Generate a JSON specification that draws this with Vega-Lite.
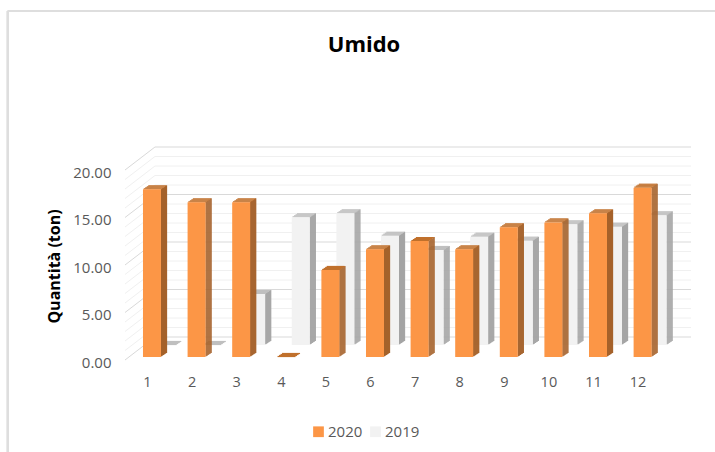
{"$schema":"https://vega.github.io/schema/vega-lite/v6.json","width":566,"height":228,"autosize":{"type":"none"},"padding":{"left":125,"top":132,"right":24,"bottom":92},"background":"#ffffff",
"title":{"text":"Umido","font":"Open Sans","fontSize":22,"fontWeight":"bold","color":"#000000","anchor":"middle","dx":-44,"offset":-47},
"config":{"view":{"stroke":null},"font":"Open Sans","axis":{"grid":false,"domain":false,"ticks":false}},
"datasets":{
"d2020":[{"mese":1,"anno":"2020","quantita":17.65},{"mese":2,"anno":"2020","quantita":16.28},{"mese":3,"anno":"2020","quantita":16.28},{"mese":4,"anno":"2020","quantita":0},{"mese":5,"anno":"2020","quantita":9.16},{"mese":6,"anno":"2020","quantita":11.33},{"mese":7,"anno":"2020","quantita":12.2},{"mese":8,"anno":"2020","quantita":11.33},{"mese":9,"anno":"2020","quantita":13.65},{"mese":10,"anno":"2020","quantita":14.17},{"mese":11,"anno":"2020","quantita":15.12},{"mese":12,"anno":"2020","quantita":17.82}],
"d2019":[{"mese":1,"anno":"2019","quantita":0},{"mese":2,"anno":"2019","quantita":0},{"mese":3,"anno":"2019","quantita":5.37},{"mese":4,"anno":"2019","quantita":13.44},{"mese":5,"anno":"2019","quantita":13.86},{"mese":6,"anno":"2019","quantita":11.5},{"mese":7,"anno":"2019","quantita":10},{"mese":8,"anno":"2019","quantita":11.4},{"mese":9,"anno":"2019","quantita":10.98},{"mese":10,"anno":"2019","quantita":12.7},{"mese":11,"anno":"2019","quantita":12.45},{"mese":12,"anno":"2019","quantita":13.65}],
"livelli":[{"livello":0},{"livello":1},{"livello":2},{"livello":3},{"livello":4},{"livello":5},{"livello":6},{"livello":7},{"livello":8},{"livello":9},{"livello":10},{"livello":11},{"livello":12},{"livello":13},{"livello":14},{"livello":15},{"livello":16},{"livello":17},{"livello":18},{"livello":19},{"livello":20}]},
"layer":[
{"data":{"name":"livelli"},"mark":{"type":"rule","stroke":"#dedede","strokeWidth":2},"encoding":{"x":{"datum":-2.229,"type":"quantitative"},"x2":{"datum":13.62},"y":{"datum":36.74,"type":"quantitative"}}},
{"data":{"name":"livelli"},"mark":{"type":"rule","stroke":"#dedede","strokeWidth":2},"encoding":{"x":{"datum":-2.229,"type":"quantitative"},"y":{"datum":36.74,"type":"quantitative"},"y2":{"datum":-9.68}}},
{"data":{"name":"livelli"},"mark":{"type":"rule","strokeWidth":1,"yOffset":-23},"encoding":{"x":{"datum":1.067,"type":"quantitative"},"x2":{"datum":13.085},"y":{"field":"livello","type":"quantitative"},"stroke":{"condition":{"test":"datum.livello%5===0","value":"#d9d9d9"},"value":"#f0f0f0"}}},
{"data":{"name":"livelli"},"mark":{"type":"rule","strokeWidth":1,"y2Offset":-23},"encoding":{"x":{"datum":0.395,"type":"quantitative"},"x2":{"datum":1.067},"y":{"field":"livello","type":"quantitative"},"y2":{"field":"livello"},"stroke":{"condition":{"test":"datum.livello%5===0","value":"#d9d9d9"},"value":"#f0f0f0"}}},
{"encoding":{"x":{"field":"mese","type":"quantitative","title":null,"scale":{"domain":[0.395,13.085],"nice":false,"zero":false,"padding":0},"axis":{"values":[1,2,3,4,5,6,7,8,9,10,11,12],"format":"d","labelOffset":-5,"labelPadding":15,"labelFontSize":14.5,"labelColor":"#595959","labelFont":"Open Sans","title":null}},
"y":{"field":"quantita","type":"quantitative","title":"Quantità (ton)","scale":{"domain":[0,24],"nice":false,"zero":false},"axis":{"values":[0,5,10,15,20],"format":".2f","labelOffset":2,"labelPadding":14,"labelFontSize":15,"labelColor":"#595959","labelFont":"Open Sans","title":"Quantità (ton)","titleFont":"Open Sans","titleFontSize":16,"titleFontWeight":"bold","titleColor":"#000000","titleX":-63,"titleY":134}},"y2":{"datum":0}},
"layer":[
{"data":{"name":"d2019"},"mark":{"type":"bar","orient":"vertical","width":1.3,"fill":"#a5a5a5","xOffset":24.5,"yOffset":-15.67,"y2Offset":-15.67}},
{"data":{"name":"d2019"},"mark":{"type":"bar","orient":"vertical","width":1.3,"fill":"#a5a5a5","xOffset":25.5,"yOffset":-16.33,"y2Offset":-16.33}},
{"data":{"name":"d2019"},"mark":{"type":"bar","orient":"vertical","width":1.3,"fill":"#a5a5a5","xOffset":26.5,"yOffset":-17,"y2Offset":-17}},
{"data":{"name":"d2019"},"mark":{"type":"bar","orient":"vertical","width":1.3,"fill":"#a5a5a5","xOffset":27.5,"yOffset":-17.67,"y2Offset":-17.67}},
{"data":{"name":"d2019"},"mark":{"type":"bar","orient":"vertical","width":1.3,"fill":"#a5a5a5","xOffset":28.5,"yOffset":-18.33,"y2Offset":-18.33}},
{"data":{"name":"d2019"},"mark":{"type":"bar","orient":"vertical","width":1.3,"fill":"#a5a5a5","xOffset":29.5,"yOffset":-19,"y2Offset":-19}},
{"data":{"name":"d2019"},"mark":{"type":"tick","orient":"horizontal","size":18,"thickness":1.2,"fill":"#bfbfbf","stroke":null,"opacity":1,"xOffset":15.75,"yOffset":-15.5},"encoding":{"y2":null}},
{"data":{"name":"d2019"},"mark":{"type":"tick","orient":"horizontal","size":18,"thickness":1.2,"fill":"#bfbfbf","stroke":null,"opacity":1,"xOffset":17.25,"yOffset":-16.5},"encoding":{"y2":null}},
{"data":{"name":"d2019"},"mark":{"type":"tick","orient":"horizontal","size":18,"thickness":1.2,"fill":"#bfbfbf","stroke":null,"opacity":1,"xOffset":18.75,"yOffset":-17.5},"encoding":{"y2":null}},
{"data":{"name":"d2019"},"mark":{"type":"tick","orient":"horizontal","size":18,"thickness":1.2,"fill":"#bfbfbf","stroke":null,"opacity":1,"xOffset":20.25,"yOffset":-18.5},"encoding":{"y2":null}},
{"data":{"name":"d2019"},"mark":{"type":"bar","orient":"vertical","width":18,"xOffset":15,"yOffset":-15,"y2Offset":-15},"encoding":{"fill":{"field":"anno","type":"nominal","scale":{"domain":["2020","2019"],"range":["#fc9646","#f2f2f2"]},"legend":{"title":null,"orient":"none","legendX":186,"legendY":292,"direction":"horizontal","symbolType":"square","symbolSize":115,"symbolStrokeWidth":0,"labelFontSize":15,"labelColor":"#595959","labelFont":"Open Sans","columnPadding":5,"labelOffset":2}}}},
{"data":{"name":"d2020"},"mark":{"type":"bar","orient":"vertical","width":1.3,"fill":"#a5622b","xOffset":9.5,"yOffset":-3.67,"y2Offset":-3.67}},
{"data":{"name":"d2020"},"mark":{"type":"bar","orient":"vertical","width":1.3,"fill":"#a5622b","xOffset":10.5,"yOffset":-4.33,"y2Offset":-4.33}},
{"data":{"name":"d2020"},"mark":{"type":"bar","orient":"vertical","width":1.3,"fill":"#a5622b","xOffset":11.5,"yOffset":-5,"y2Offset":-5}},
{"data":{"name":"d2020"},"mark":{"type":"bar","orient":"vertical","width":1.3,"fill":"#a5622b","xOffset":12.5,"yOffset":-5.67,"y2Offset":-5.67}},
{"data":{"name":"d2020"},"mark":{"type":"bar","orient":"vertical","width":1.3,"fill":"#a5622b","xOffset":13.5,"yOffset":-6.33,"y2Offset":-6.33}},
{"data":{"name":"d2020"},"mark":{"type":"bar","orient":"vertical","width":1.3,"fill":"#a5622b","xOffset":14.5,"yOffset":-7,"y2Offset":-7}},
{"data":{"name":"d2020"},"mark":{"type":"tick","orient":"horizontal","size":18,"thickness":1.2,"fill":"#c0702c","stroke":null,"opacity":1,"xOffset":0.75,"yOffset":-3.5},"encoding":{"y2":null}},
{"data":{"name":"d2020"},"mark":{"type":"tick","orient":"horizontal","size":18,"thickness":1.2,"fill":"#c0702c","stroke":null,"opacity":1,"xOffset":2.25,"yOffset":-4.5},"encoding":{"y2":null}},
{"data":{"name":"d2020"},"mark":{"type":"tick","orient":"horizontal","size":18,"thickness":1.2,"fill":"#c0702c","stroke":null,"opacity":1,"xOffset":3.75,"yOffset":-5.5},"encoding":{"y2":null}},
{"data":{"name":"d2020"},"mark":{"type":"tick","orient":"horizontal","size":18,"thickness":1.2,"fill":"#c0702c","stroke":null,"opacity":1,"xOffset":5.25,"yOffset":-6.5},"encoding":{"y2":null}},
{"data":{"name":"d2020"},"mark":{"type":"bar","orient":"vertical","width":18,"yOffset":-3,"y2Offset":-3},"encoding":{"fill":{"field":"anno","type":"nominal","scale":{"domain":["2020","2019"],"range":["#fc9646","#f2f2f2"]},"legend":{"title":null,"orient":"none","legendX":186,"legendY":292,"direction":"horizontal","symbolType":"square","symbolSize":115,"symbolStrokeWidth":0,"labelFontSize":15,"labelColor":"#595959","labelFont":"Open Sans","columnPadding":5,"labelOffset":2}}}}
]}
]}
